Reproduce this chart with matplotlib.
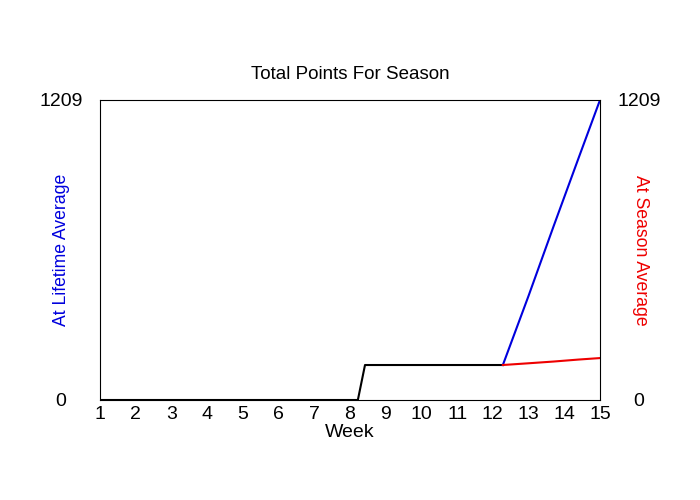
import matplotlib
matplotlib.use('Agg')
import matplotlib.pyplot as plt

plt.rcParams['font.family'] = ['Liberation Sans', 'DejaVu Sans']

# Datos
semanas = list(range(1, 16))
semana_real = [1, 8.22, 8.42, 12.28]
puntos_real = [0, 0, 141, 141]
semana_vida = [12.28, 13, 13.7, 14.4, 15]
puntos_vida = [141, 420, 700, 975, 1209]
semana_temp = [12.28, 13, 13.7, 14.4, 15]
puntos_temp = [141, 148, 155, 163, 169]
y_max = 1209

fig = plt.figure(figsize=(7, 5), dpi=100)
ax = fig.add_axes([100 / 700, 0.2, 500 / 700, 0.6])

ax.plot(semana_real, puntos_real, color='black', lw=1.5)
ax.plot(semana_vida, puntos_vida, color='#0000dd', lw=1.5)
ax.plot(semana_temp, puntos_temp, color='#ee0000', lw=1.5)

ax.set_xlim(1, 15)
ax.set_ylim(0, y_max)
ax.set_xticks(semanas)
ax.set_yticks([0, y_max])
ax.set_yticklabels(['0', str(y_max)])
ax.tick_params(axis='x', length=0, pad=4, labelsize=14)
ax.tick_params(axis='y', length=0, pad=28, labelsize=14, right=True, labelright=True)
for t in ax.get_yticklabels():
    t.set_horizontalalignment('center')

# Etiquetas
ax.set_title('Total Points For Season', fontsize=13.5, pad=15)
ax.set_xlabel('Week', fontsize=14, labelpad=1)
fig.text(61 / 700, 0.5, 'At Lifetime Average', color='#0000dd', fontsize=12.7,
         rotation=90, ha='center', va='center')
fig.text(640 / 700, 0.5, 'At Season Average', color='#ee0000', fontsize=12.7,
         rotation=-90, ha='center', va='center')

plt.savefig('out.png')
